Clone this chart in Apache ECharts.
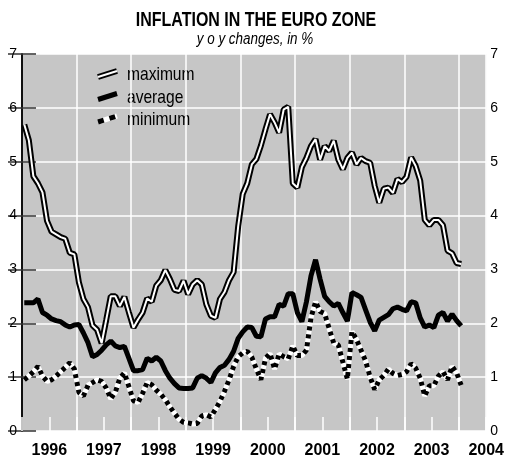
<!DOCTYPE html>
<html>
<head>
<meta charset="utf-8">
<title>Inflation in the euro zone</title>
<script src="https://cdn.jsdelivr.net/npm/echarts@6/dist/echarts.min.js"></script>
<style>
html, body { margin: 0; padding: 0; background: #fff; }
#inflation { width: 507px; height: 460px; }
</style>
</head>
<body>
<div id="inflation"></div>
<script>
// monthly y-o-y changes in %, Jan 1996 .. Jan 2004
var maxData = [5.69, 5.4, 4.73, 4.6, 4.43, 3.9, 3.7, 3.65, 3.6, 3.57, 3.31, 3.28,
    2.76, 2.45, 2.3, 1.96, 1.88, 1.63, 2.06, 2.5, 2.5, 2.32, 2.49, 2.2,
    1.92, 2.07, 2.2, 2.46, 2.4, 2.7, 2.8, 2.99, 2.82, 2.62, 2.6, 2.79,
    2.54, 2.72, 2.8, 2.72, 2.35, 2.14, 2.1, 2.45, 2.58, 2.8, 2.95, 3.8,
    4.4, 4.6, 4.95, 5.05, 5.3, 5.6, 5.88, 5.73, 5.54, 5.97, 6.02, 4.6,
    4.52, 4.9, 5.07, 5.29, 5.42, 5.04, 5.29, 5.2, 5.39, 5.04, 4.86, 5.07,
    5.17, 4.95, 5.07, 5.01, 4.98, 4.55, 4.24, 4.5, 4.52, 4.42, 4.68, 4.62,
    4.72, 5.08, 4.92, 4.65, 3.92, 3.82, 3.92, 3.92, 3.82, 3.35, 3.3, 3.12,
    3.1];
var avgData = [2.38, 2.38, 2.38, 2.45, 2.2, 2.15, 2.08, 2.05, 2.03, 1.97, 1.93, 1.97,
    1.98, 1.82, 1.64, 1.38, 1.42, 1.5, 1.6, 1.67, 1.58, 1.55, 1.57, 1.35,
    1.12, 1.12, 1.14, 1.35, 1.3, 1.37, 1.3, 1.12, 0.98, 0.88, 0.8, 0.79,
    0.79, 0.8, 0.98, 1.03, 0.98, 0.9, 1.08, 1.18, 1.22, 1.33, 1.48, 1.72,
    1.84, 1.93, 1.92, 1.76, 1.75, 2.08, 2.12, 2.12, 2.35, 2.32, 2.55, 2.55,
    2.2, 2.03, 2.4, 2.88, 3.18, 2.82, 2.5, 2.4, 2.32, 2.37, 2.2, 2.04,
    2.57, 2.53, 2.48, 2.25, 2.02, 1.86, 2.06, 2.11, 2.16, 2.27, 2.3, 2.26,
    2.23, 2.4, 2.38, 2.1, 1.93, 1.97, 1.92, 2.15, 2.2, 2.04, 2.17, 2.05,
    1.95];
var minData = [0.95, 1.02, 1.1, 1.2, 1.02, 0.92, 0.95, 1.02, 1.1, 1.18, 1.27, 1.15,
    0.72, 0.65, 0.85, 0.9, 0.95, 0.92, 0.8, 0.6, 0.72, 0.98, 1.08, 0.82,
    0.56, 0.53, 0.7, 0.9, 0.86, 0.76, 0.68, 0.58, 0.45, 0.33, 0.22, 0.16,
    0.15, 0.13, 0.14, 0.28, 0.3, 0.26, 0.4, 0.55, 0.74, 0.95, 1.2, 1.38,
    1.45, 1.48, 1.37, 1.15, 0.95, 1.35, 1.44, 1.15, 1.43, 1.38, 1.34, 1.58,
    1.4, 1.4, 1.5, 2.1, 2.4, 2.22, 2.18, 1.9, 1.63, 1.6, 1.28, 0.96,
    1.85, 1.7, 1.5, 1.3, 1.0, 0.77, 0.95, 1.03, 1.15, 1.07, 1.03, 1.05,
    1.1, 1.25, 1.17, 0.98, 0.65, 0.84, 0.84, 1.02, 1.1, 0.95, 1.2, 1.08,
    0.85];
var yearLabels = ['1996', '1997', '1998', '1999', '2000', '2001', '2002', '2003', '2004'];
var legendNames = ['maximum', 'average', 'minimum'];
var titleText = 'INFLATION IN THE EURO ZONE';
var subText = 'y o y changes, in %';

var font = "'Liberation Sans', Arial, sans-serif";
// the original uses a condensed face, squeeze the text horizontally
var squeeze = 0.82;

// month index -> x value (point in the middle of the month)
function toPoints(arr) {
    var pts = [];
    for (var i = 0; i < arr.length; i++) {
        pts.push([i + 0.5, arr[i]]);
    }
    return pts;
}

function yAxisFor(pos, margin) {
    return {
        type: 'value',
        position: pos,
        min: 0,
        max: 7,
        interval: 1,
        axisLine: { show: true, lineStyle: { color: '#000', width: 1.5 } },
        axisTick: { show: true, inside: true, length: 14, lineStyle: { color: '#333', width: 1.5 } },
        axisLabel: { color: '#000', fontFamily: font, fontSize: 14, margin: margin },
        splitLine: { show: pos === 'left', lineStyle: { color: '#fff', width: 1.5 } }
    };
}

// title, subtitle and a hand drawn legend (slanted stroke + name)
function extraGraphics() {
    var items = [];
    items.push({
        type: 'text', x: 256, y: 21, scaleX: squeeze,
        style: { x: 0, y: 0, text: titleText, fill: '#000', font: 'bold 19.5px ' + font,
            align: 'center', verticalAlign: 'middle' }
    });
    items.push({
        type: 'text', x: 255, y: 40, scaleX: 0.84,
        style: { x: 0, y: 0, text: subText, fill: '#000', font: 'italic 16px ' + font,
            align: 'center', verticalAlign: 'middle' }
    });
    var x0 = 98, x1 = 117;
    for (var k = 0; k < legendNames.length; k++) {
        var yc = 74 + k * 22.5;
        var shape = { x1: x0, y1: yc + 3, x2: x1, y2: yc - 3 };
        if (k === 0) {
            items.push({ type: 'line', shape: shape, style: { stroke: '#000', lineWidth: 6 } });
            items.push({ type: 'line', shape: shape, style: { stroke: '#fff', lineWidth: 2 } });
        } else if (k === 1) {
            items.push({ type: 'line', shape: shape, style: { stroke: '#000', lineWidth: 5 } });
        } else {
            items.push({ type: 'line', shape: shape, style: { stroke: '#fff', lineWidth: 5 } });
            items.push({ type: 'line', shape: shape, style: { stroke: '#000', lineWidth: 5, lineDash: [6, 6] } });
        }
        items.push({
            type: 'text', x: 127, y: yc + 1, scaleX: squeeze,
            style: { x: 0, y: 0, text: legendNames[k], fill: '#000',
                font: '19px ' + font, verticalAlign: 'middle' }
        });
    }
    return items;
}

var myChart = echarts.init(document.getElementById('inflation'));

var option = {
    backgroundColor: '#fff',
    animation: false,
    grid: {
        left: 22,
        right: 17,
        top: 54,
        bottom: 29,
        show: true,
        backgroundColor: '#c6c6c6',
        borderWidth: 0
    },
    xAxis: [{
        // year labels between the gridlines, small white mid-year ticks
        type: 'value',
        min: 0,
        max: 102,
        interval: 6,
        position: 'bottom',
        axisLine: { show: false },
        axisTick: { show: true, inside: true, length: 14, lineStyle: { color: '#fff', width: 1.5 } },
        axisLabel: {
            showMaxLabel: true,
            margin: 12,
            color: '#000',
            fontFamily: font,
            fontSize: 16,
            fontWeight: 'bold',
            formatter: function (v) {
                if (v % 12 === 6) return yearLabels[(v - 6) / 12];
                return '';
            }
        },
        splitLine: { show: false }
    }, {
        // yearly white gridlines
        type: 'value',
        min: 0,
        max: 102,
        interval: 12,
        position: 'top',
        axisLine: { show: false },
        axisTick: { show: false },
        axisLabel: { show: false },
        splitLine: { show: true, lineStyle: { color: '#fff', width: 1.5 } }
    }],
    yAxis: [yAxisFor('left', 5), yAxisFor('right', 4)],
    graphic: extraGraphics(),
    series: [{
        name: 'minimum',
        type: 'line',
        data: toPoints(minData),
        symbol: 'none',
        z: 2,
        lineStyle: { color: '#fff', width: 5 }
    }, {
        name: 'minimum',
        type: 'line',
        data: toPoints(minData),
        symbol: 'none',
        z: 3,
        lineStyle: { color: '#000', width: 5, type: [4, 4] }
    }, {
        name: 'average',
        type: 'line',
        data: toPoints(avgData),
        symbol: 'none',
        z: 4,
        lineStyle: { color: '#000', width: 5 }
    }, {
        name: 'maximum',
        type: 'line',
        data: toPoints(maxData),
        symbol: 'none',
        z: 5,
        lineStyle: { color: '#000', width: 6 }
    }, {
        name: 'maximum',
        type: 'line',
        data: toPoints(maxData),
        symbol: 'none',
        z: 6,
        lineStyle: { color: '#fff', width: 2 }
    }]
};

myChart.setOption(option);
</script>
</body>
</html>
